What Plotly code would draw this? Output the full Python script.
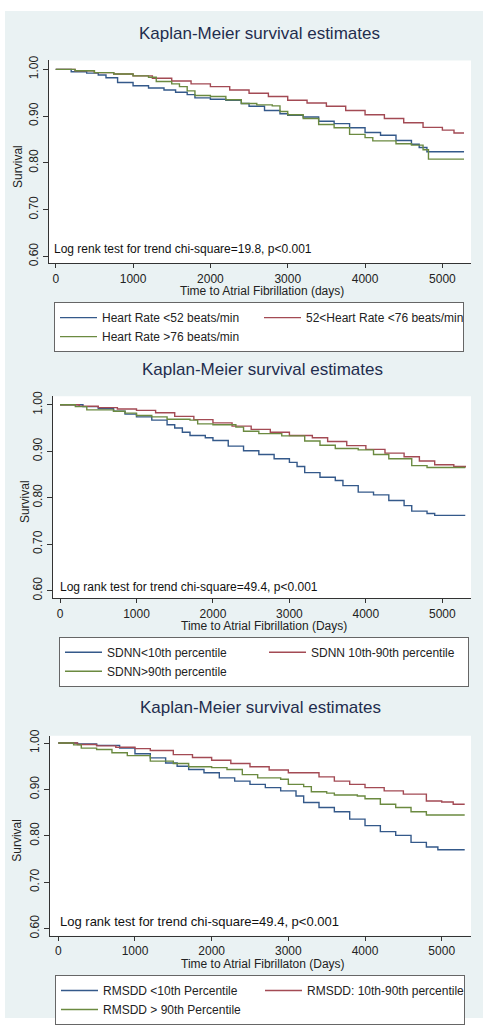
import plotly.graph_objects as go

# ---------------- data ----------------
# Panel 1: heart rate groups
p1_lo_t = [0, 200, 400, 550, 650, 800, 1000, 1200, 1400, 1550, 1700, 1800, 2000, 2200, 2400, 2500, 2700, 2900, 3000, 3200, 3400, 3600, 3800, 4000, 4200, 4400, 4600, 4700, 4800, 5280]
p1_lo_s = [1.000, 0.995, 0.992, 0.988, 0.982, 0.972, 0.965, 0.960, 0.956, 0.951, 0.946, 0.939, 0.936, 0.934, 0.927, 0.921, 0.912, 0.905, 0.902, 0.898, 0.889, 0.884, 0.875, 0.865, 0.859, 0.848, 0.840, 0.833, 0.824, 0.824]
p1_mid_t = [0, 250, 500, 750, 1000, 1250, 1500, 1750, 2000, 2250, 2500, 2750, 3000, 3250, 3500, 3750, 4000, 4250, 4500, 4750, 5000, 5150, 5280]
p1_mid_s = [1.000, 0.997, 0.993, 0.990, 0.986, 0.981, 0.975, 0.969, 0.963, 0.956, 0.949, 0.942, 0.934, 0.928, 0.921, 0.912, 0.903, 0.895, 0.886, 0.876, 0.870, 0.864, 0.864]
p1_hi_t = [0, 250, 500, 750, 1000, 1200, 1300, 1500, 1600, 1700, 1800, 2000, 2200, 2400, 2600, 2800, 2900, 3000, 3200, 3400, 3600, 3800, 4000, 4100, 4400, 4600, 4750, 4820, 5280]
p1_hi_s = [1.000, 0.997, 0.993, 0.990, 0.986, 0.983, 0.974, 0.969, 0.963, 0.954, 0.944, 0.942, 0.935, 0.927, 0.924, 0.922, 0.910, 0.903, 0.895, 0.882, 0.875, 0.861, 0.854, 0.847, 0.841, 0.838, 0.828, 0.808, 0.808]

# Panel 2: SDNN groups
p2_lo_t = [0, 300, 500, 700, 850, 1000, 1200, 1400, 1500, 1600, 1700, 1900, 2000, 2200, 2400, 2600, 2800, 3000, 3100, 3200, 3400, 3600, 3700, 3900, 4100, 4300, 4500, 4600, 4800, 4900, 5300]
p2_lo_s = [1.000, 0.996, 0.992, 0.986, 0.980, 0.974, 0.967, 0.957, 0.950, 0.941, 0.934, 0.929, 0.923, 0.911, 0.901, 0.893, 0.884, 0.876, 0.867, 0.854, 0.844, 0.837, 0.826, 0.812, 0.806, 0.794, 0.783, 0.771, 0.766, 0.762, 0.762]
p2_mid_t = [0, 250, 500, 750, 1000, 1250, 1500, 1750, 2000, 2250, 2500, 2750, 3000, 3300, 3500, 3750, 4000, 4250, 4500, 4700, 4900, 5150, 5300]
p2_mid_s = [1.000, 0.997, 0.994, 0.991, 0.988, 0.983, 0.975, 0.968, 0.961, 0.954, 0.947, 0.941, 0.934, 0.929, 0.921, 0.912, 0.904, 0.896, 0.888, 0.879, 0.871, 0.867, 0.865]
p2_hi_t = [0, 200, 350, 700, 850, 1000, 1200, 1400, 1700, 1800, 2000, 2300, 2400, 2600, 2900, 3200, 3400, 3600, 3900, 4100, 4300, 4600, 4800, 5300]
p2_hi_s = [1.000, 0.996, 0.989, 0.986, 0.982, 0.977, 0.974, 0.969, 0.967, 0.959, 0.957, 0.952, 0.943, 0.938, 0.933, 0.922, 0.913, 0.906, 0.903, 0.893, 0.884, 0.869, 0.865, 0.865]

# Panel 3: RMSDD groups
p3_lo_t = [0, 250, 500, 800, 1000, 1200, 1400, 1550, 1700, 1900, 2100, 2300, 2500, 2700, 2900, 3100, 3200, 3400, 3600, 3800, 4000, 4200, 4400, 4600, 4800, 4950, 5300]
p3_lo_s = [1.000, 0.998, 0.995, 0.989, 0.977, 0.968, 0.957, 0.950, 0.943, 0.936, 0.925, 0.918, 0.911, 0.904, 0.897, 0.886, 0.872, 0.861, 0.852, 0.836, 0.822, 0.809, 0.801, 0.786, 0.776, 0.770, 0.770]
p3_mid_t = [0, 250, 500, 750, 1000, 1200, 1500, 1750, 2000, 2250, 2500, 2750, 3000, 3400, 3600, 3800, 4000, 4250, 4500, 4800, 5000, 5150, 5300]
p3_mid_s = [1.000, 0.997, 0.994, 0.991, 0.988, 0.984, 0.975, 0.969, 0.963, 0.956, 0.949, 0.942, 0.936, 0.927, 0.918, 0.911, 0.904, 0.897, 0.890, 0.875, 0.873, 0.868, 0.868]
p3_hi_t = [0, 200, 300, 500, 700, 900, 1200, 1500, 1700, 2000, 2200, 2400, 2600, 2900, 3000, 3200, 3300, 3500, 3600, 3900, 4000, 4200, 4400, 4600, 4800, 5300]
p3_hi_s = [1.000, 0.996, 0.989, 0.986, 0.979, 0.973, 0.961, 0.956, 0.949, 0.947, 0.943, 0.932, 0.925, 0.922, 0.911, 0.906, 0.895, 0.892, 0.888, 0.886, 0.880, 0.868, 0.861, 0.852, 0.845, 0.845]

p1_names = ["Heart Rate <52 beats/min", "52<Heart Rate <76 beats/min", "Heart Rate >76 beats/min"]
p2_names = ["SDNN<10th percentile", "SDNN 10th-90th percentile", "SDNN>90th percentile"]
p3_names = ["RMSDD <10th Percentile", "RMSDD: 10th-90th percentile", "RMSDD > 90th Percentile"]

titles = ["Kaplan-Meier survival estimates"] * 3
xtitles = ["Time to Atrial Fibrillation (days)", "Time to Atrial Fibrillation (Days)", "Time to Atrial Fibrillaton (Days)"]
notes = ["Log renk test for trend chi-square=19.8, p<0.001",
         "Log rank test for trend chi-square=49.4, p<0.001",
         "Log rank test for trend chi-square=49.4, p<0.001"]
x_ticks = [0, 1000, 2000, 3000, 4000, 5000]
y_ticks = [0.60, 0.70, 0.80, 0.90, 1.00]

# ---------------- style ----------------
W, H = 488, 1025
FONT = "Liberation Sans, Arial, sans-serif"
BG = "#eaf2f3"
COLORS = ["#34598a", "#a34a54", "#6b8a40"]
TITLE_C = "#1f2d4e"


def px(y):
    return 1 - y / H


def fx(x):
    return x / W


panels = [
    dict(series=[(p1_lo_t, p1_lo_s), (p1_mid_t, p1_mid_s), (p1_hi_t, p1_hi_s)], names=p1_names,
         box=(49, 471, 54, 259), xr=[-87, 5370], yr=[0.585, 1.019],
         title_y=27, title_x=259, xt_y=287, ylab_x=18, note=(52, 244, 12), leg=(54, 298)),
    dict(series=[(p2_lo_t, p2_lo_s), (p2_mid_t, p2_mid_s), (p2_hi_t, p2_hi_s)], names=p2_names,
         box=(53, 471, 393, 597), xr=[-92, 5375], yr=[0.5836, 1.0186],
         title_y=366, title_x=262, xt_y=625, ylab_x=25, note=(58, 586, 12), leg=(59, 636)),
    dict(series=[(p3_lo_t, p3_lo_s), (p3_mid_t, p3_mid_s), (p3_hi_t, p3_hi_s)], names=p3_names,
         box=(50, 471, 736, 938), xr=[-108, 5382], yr=[0.5844, 1.0156],
         title_y=707, title_x=260, xt_y=966, ylab_x=17, note=(58, 924, 13), leg=(55, 978)),
]

fig = go.Figure()
layout = dict(width=W, height=H, margin=dict(l=0, r=0, t=0, b=0),
              paper_bgcolor="white", plot_bgcolor="white",
              font=dict(family=FONT, size=12, color="#222"),
              showlegend=True, annotations=[], shapes=[])

layout["shapes"].append(dict(type="rect", xref="paper", yref="paper", x0=fx(5), x1=fx(483),
                             y0=px(1021), y1=px(4), fillcolor=BG, line=dict(width=0), layer="below"))

for i, p in enumerate(panels):
    k = "" if i == 0 else str(i + 1)
    xa, ya = "x" + k, "y" + k
    leg = "legend" + k
    for j, ((t, s), nm) in enumerate(zip(p["series"], p["names"])):
        fig.add_trace(go.Scatter(x=t, y=s, mode="lines", name=nm, line=dict(color=COLORS[j], width=1.4, shape="hv"),
                                 xaxis=xa, yaxis=ya, legend=leg, hoverinfo="skip"))
    x0, x1, y0, y1 = p["box"]
    layout["shapes"].append(dict(type="rect", xref="paper", yref="paper", x0=fx(x0), x1=fx(x1),
                                 y0=px(y1), y1=px(y0), fillcolor="white", line=dict(width=0), layer="below"))
    layout["xaxis" + k] = dict(domain=[fx(x0), fx(x1)], anchor=ya, range=p["xr"], tickvals=x_ticks,
                               ticks="outside", ticklen=4, tickcolor="#333", showline=True, linecolor="#333",
                               linewidth=1, showgrid=False, zeroline=False, tickfont=dict(size=12, color="#222"))
    layout["yaxis" + k] = dict(domain=[px(y1), px(y0)], anchor=xa, range=p["yr"], tickvals=y_ticks,
                               tickformat=".2f", tickangle=-90, ticks="outside", ticklen=5, tickcolor="#333",
                               showline=True, linecolor="#333", linewidth=1, showgrid=False, zeroline=False,
                               tickfont=dict(size=12, color="#222"))
    layout["annotations"] += [
        dict(text=titles[i], xref="paper", yref="paper", x=fx(p["title_x"]), y=px(p["title_y"]),
             xanchor="center", yanchor="middle", showarrow=False, font=dict(size=17, color=TITLE_C)),
        dict(text=xtitles[i], xref="paper", yref="paper", x=fx((x0 + x1) / 2 + 2), y=px(p["xt_y"]),
             xanchor="center", yanchor="middle", showarrow=False, font=dict(size=12, color="#222")),
        dict(text="Survival", xref="paper", yref="paper", x=fx(p["ylab_x"]), y=px((y0 + y1) / 2 + 5),
             xanchor="center", yanchor="middle", textangle=-90, showarrow=False, font=dict(size=12, color="#222")),
        dict(text=notes[i], xref="paper", yref="paper", x=fx(p["note"][0]), y=px(p["note"][1]),
             xanchor="left", yanchor="middle", showarrow=False, font=dict(size=p["note"][2], color="#111")),
    ]
    layout[leg] = dict(x=fx(p["leg"][0]), y=px(p["leg"][1]), xanchor="left", yanchor="top",
                       orientation="h", bgcolor="white", bordercolor="#666", borderwidth=1,
                       entrywidth=152, itemwidth=37, tracegroupgap=0, itemclick=False, itemdoubleclick=False,
                       font=dict(size=12, color="#222"))

fig.update_layout(**layout)
fig.write_html("out.html", config={"displayModeBar": False},
               post_script="document.body.style.margin='0';")
